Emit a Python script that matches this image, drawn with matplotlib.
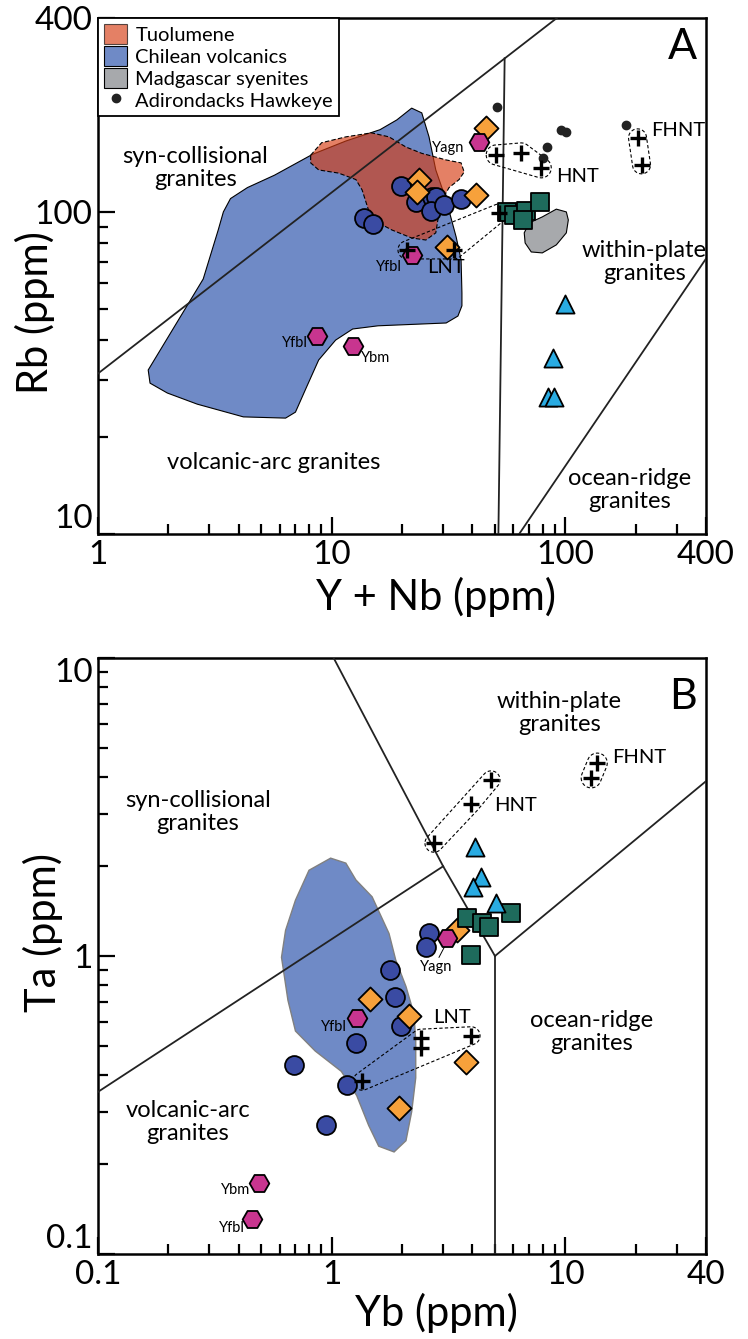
import numpy as np
import matplotlib
matplotlib.use('Agg')
import matplotlib.pyplot as plt
from matplotlib.patches import Polygon, Patch
from matplotlib.lines import Line2D
from matplotlib.ticker import FixedLocator, NullFormatter

plt.rcParams['font.family'] = ['Lato', 'DejaVu Sans']

# ---------------- Panel A : Rb vs Y+Nb ----------------
a_circ_x = [19.8, 22.9, 26.9, 27.9, 26.6, 30.3, 35.8, 13.7, 15.1]
a_circ_y = [120, 107, 111, 111, 101, 105, 110, 96, 92]
a_diam_x = [23.6, 23.2, 41.5, 31.2, 45.8]
a_diam_y = [125.7, 115.4, 113, 77.9, 182.3]
a_hex_x = [42.7, 22.0, 8.62, 12.3]
a_hex_y = [164.9, 73.5, 41.2, 38.4]
a_sq_x = [56.4, 60.4, 68.0, 66.0, 78.1]
a_sq_y = [100, 97.9, 100.7, 94.4, 107.4]
a_tri_x = [100, 88.8, 84.6, 89.7]
a_tri_y = [51.8, 35.2, 26.6, 26.6]
a_hnt_x = [50.6, 64.7, 78.9]
a_hnt_y = [150.3, 152.5, 137.0]
a_fhnt_x = [203.7, 211.9]
a_fhnt_y = [169.8, 140.0]
a_lnt_x = [21.0, 33.4, 52.1]
a_lnt_y = [76.2, 76.2, 99.3]
a_dot_x = [51.1, 96.1, 101, 83.7, 80.5, 182.7]
a_dot_y = [211.8, 179.7, 177.2, 159.2, 147.1, 186.3]

# outlines of reference fields
a_chile_x = [1.64, 2.82, 3.27, 3.44, 3.69, 4.36, 5.69, 8.29, 11.5, 16.1, 19.0, 22.0, 24.3,
             26.1, 27.9, 30.9, 34.1, 35.8, 36.1, 36.1, 34.7, 30.9, 15.8, 12.3, 10.4, 8.80,
             7.81, 7.00, 6.35, 4.19, 2.66, 1.98, 1.67]
a_chile_y = [32.3, 61.9, 87.9, 100, 110, 119, 130, 151, 166, 180, 193, 210, 203, 171, 135,
             109, 83.6, 71.0, 56.0, 51.1, 47.5, 45.2, 44.3, 43.3, 40.0, 34.7, 28.6, 23.9,
             22.9, 23.1, 25.3, 27.4, 29.4]
a_tuol_x = [8.13, 9.06, 11.5, 14.8, 17.6, 20.8, 24.3, 30.9, 35.8, 36.9, 35.1, 31.8, 29.7,
            28.8, 27.9, 25.3, 22.0, 18.1, 15.9, 14.4, 13.5, 12.7, 10.7, 8.80, 8.13]
a_tuol_y = [150, 164, 171, 176, 171, 159, 152, 145, 142, 133, 126, 119, 109, 99.3, 86.1,
            81.8, 83.0, 87.9, 92.4, 101, 117, 126, 132, 135, 142]
a_mad_x = [66.7, 70.0, 79.7, 91.5, 101, 103, 101, 91.5, 79.7, 71.5, 67.3]
a_mad_y = [86.1, 92.4, 96.5, 102, 100, 94.4, 86.1, 79.0, 74.6, 75.1, 80.1]

# Pearce et al. (1984) boundaries
a_bound = [([1, 92], [31.5, 400]),
           ([55, 51.5], [300, 8]),
           ([51.5, 2000], [8, 400])]

# ---------------- Panel B : Ta vs Yb ----------------
b_circ_x = [2.61, 2.53, 1.77, 1.86, 1.98, 1.27, 0.69, 1.16, 0.95]
b_circ_y = [1.19, 1.07, 0.90, 0.73, 0.58, 0.51, 0.43, 0.37, 0.27]
b_diam_x = [3.44, 1.46, 2.14, 3.76, 1.94]
b_diam_y = [1.22, 0.72, 0.63, 0.44, 0.31]
b_hex_x = [3.12, 1.28, 0.49, 0.458]
b_hex_y = [1.15, 0.62, 0.173, 0.131]
b_sq_x = [3.80, 4.40, 4.72, 5.87, 3.95]
b_sq_y = [1.34, 1.29, 1.25, 1.39, 1.01]
b_tri_x = [4.11, 4.36, 4.03, 5.06]
b_tri_y = [2.32, 1.84, 1.71, 1.51]
b_hnt_x = [4.81, 3.95, 2.74]
b_hnt_y = [3.90, 3.24, 2.39]
b_fhnt_x = [13.7, 12.9]
b_fhnt_y = [4.44, 3.96]
b_lnt_x = [1.35, 2.41, 2.41, 3.95]
b_lnt_y = [0.38, 0.53, 0.49, 0.54]

b_chile_x = [0.99, 1.15, 1.27, 1.49, 1.76, 1.88, 2.08, 2.25, 2.29, 2.29, 2.20, 2.08, 1.85,
             1.59, 1.44, 1.28, 1.10, 0.85, 0.70, 0.65, 0.61, 0.635, 0.70, 0.80]
b_chile_y = [2.13, 2.05, 1.80, 1.58, 1.19, 0.97, 0.79, 0.64, 0.52, 0.39, 0.30, 0.24, 0.22,
             0.23, 0.27, 0.34, 0.41, 0.48, 0.56, 0.71, 0.99, 1.22, 1.54, 1.94]

b_bound = [([1.02, 3, 5], [10, 2, 1]),
           ([0.1, 3], [0.35, 2]),
           ([5, 5], [1, 0.05]),
           ([5, 100], [1, 7])]

# colours
c_circ = '#3A4BA3'
c_diam = '#F7A13B'
c_hex = '#C8358F'
c_sq = '#1E6B5C'
c_tri = '#29ABE2'
c_chile = '#6F8AC6'
c_tuol = '#D63C12'
c_mad = '#A7A9AC'


def hull(points):
    # monotone chain convex hull
    pts = sorted(map(tuple, points))
    def cross(o, a, b):
        return (a[0]-o[0])*(b[1]-o[1]) - (a[1]-o[1])*(b[0]-o[0])
    lower, upper = [], []
    for p in pts:
        while len(lower) >= 2 and cross(lower[-2], lower[-1], p) <= 0:
            lower.pop()
        lower.append(p)
    for p in reversed(pts):
        while len(upper) >= 2 and cross(upper[-2], upper[-1], p) <= 0:
            upper.pop()
        upper.append(p)
    return np.array(lower[:-1] + upper[:-1])


def group_outline(ax, xs, ys, pad=9):
    # dashed envelope around a group of samples, built in display space
    pts = ax.transData.transform(np.column_stack([xs, ys]))
    ang = np.linspace(0, 2*np.pi, 32, endpoint=False)
    ring = np.column_stack([np.cos(ang), np.sin(ang)]) * pad
    cloud = (pts[:, None, :] + ring[None, :, :]).reshape(-1, 2)
    data = ax.transData.inverted().transform(hull(cloud))
    ax.add_patch(Polygon(data, closed=True, fill=False, ls=(0, (3, 2)),
                         lw=0.8, ec='k', zorder=4))


def style_axis(ax, xlim, ylim, xmaj, xlab, ymaj, ylab):
    ax.set_xscale('log')
    ax.set_yscale('log')
    ax.set_xlim(xlim)
    ax.set_ylim(ylim)
    ax.xaxis.set_major_locator(FixedLocator(xmaj))
    ax.yaxis.set_major_locator(FixedLocator(ymaj))
    ax.set_xticklabels(xlab)
    ax.set_yticklabels(ylab)
    ax.xaxis.set_minor_formatter(NullFormatter())
    ax.yaxis.set_minor_formatter(NullFormatter())
    ax.tick_params(which='both', direction='in', top=False, right=False,
                   width=1.6, labelsize=24, pad=4)
    ax.tick_params(which='major', length=12)
    ax.tick_params(which='minor', length=7)
    for s in ax.spines.values():
        s.set_linewidth(1.8)


def draw_samples(ax, d):
    kw = dict(edgecolors='k', linewidths=1.3, zorder=6)
    ax.scatter(d['circ'][0], d['circ'][1], s=185, marker='o', c=c_circ, **kw)
    ax.scatter(d['diam'][0], d['diam'][1], s=150, marker='D', c=c_diam, **kw)
    ax.scatter(d['hex'][0], d['hex'][1], s=200, marker='H', c=c_hex, **kw)
    ax.scatter(d['sq'][0], d['sq'][1], s=165, marker='s', c=c_sq, **kw)
    ax.scatter(d['tri'][0], d['tri'][1], s=170, marker='^', c=c_tri, **kw)
    for g in ('hnt', 'fhnt', 'lnt'):
        ax.plot(d[g][0], d[g][1], ls='none', marker='+', ms=11, mew=2.4,
                color='k', zorder=7)


fig = plt.figure(figsize=(7.48, 13.39), dpi=100)
axA = fig.add_axes([98/748, 1-534/1339, 608/748, 516/1339])
axB = fig.add_axes([98/748, 1-1254/1339, 608/748, 596/1339])

# ---------- A ----------
style_axis(axA, (1, 400), (10, 400), [1, 10, 100, 400], ['1', '10', '100', '400'],
           [10, 100, 400], ['10', '100', '400'])
axA.yaxis.get_major_ticks()[0].label1.set_va('bottom')
axA.set_xlabel('Y + Nb (ppm)', fontsize=30)
axA.xaxis.set_label_coords(0.556, -0.083)
axA.set_ylabel('Rb (ppm)', fontsize=30)
axA.yaxis.set_label_coords(-0.07, 0.43)

axA.add_patch(Polygon(np.column_stack([a_chile_x, a_chile_y]), closed=True,
                      fc=c_chile, ec='k', lw=0.8, zorder=1))
axA.add_patch(Polygon(np.column_stack([a_tuol_x, a_tuol_y]), closed=True,
                      fc=c_tuol, alpha=0.65, ec='none', zorder=2))
axA.add_patch(Polygon(np.column_stack([a_tuol_x, a_tuol_y]), closed=True,
                      fill=False, ec='k', lw=0.8, ls=(0, (4, 2)), zorder=2))
axA.add_patch(Polygon(np.column_stack([a_mad_x, a_mad_y]), closed=True,
                      fc=c_mad, ec='k', lw=0.8, zorder=2))
for bx, by in a_bound:
    axA.plot(bx, by, color='#222222', lw=1.3, zorder=3)

axA.scatter(a_dot_x, a_dot_y, s=36, c='#222222', zorder=6)
draw_samples(axA, {'circ': (a_circ_x, a_circ_y), 'diam': (a_diam_x, a_diam_y),
                   'hex': (a_hex_x, a_hex_y), 'sq': (a_sq_x, a_sq_y),
                   'tri': (a_tri_x, a_tri_y), 'hnt': (a_hnt_x, a_hnt_y),
                   'fhnt': (a_fhnt_x, a_fhnt_y), 'lnt': (a_lnt_x, a_lnt_y)})
group_outline(axA, a_hnt_x, a_hnt_y, pad=10)
group_outline(axA, a_fhnt_x, a_fhnt_y, pad=9)
group_outline(axA, a_lnt_x, a_lnt_y, pad=9)

reg = dict(fontsize=17, ha='center', va='center', linespacing=1.1, zorder=5)
axA.text(2.61, 137, 'syn-collisional\ngranites', **reg)
axA.text(218, 70, 'within-plate\ngranites', **reg)
axA.text(5.64, 16.7, 'volcanic-arc granites', **reg)
axA.text(188, 13.7, 'ocean-ridge\ngranites', **reg)
axA.text(0.962, 0.944, 'A', transform=axA.transAxes, fontsize=31, ha='center', va='center')

sm = dict(fontsize=10.5, va='center', zorder=8)
axA.text(36.9, 158, 'Yagn', ha='right', **sm)
axA.text(17.6, 67.5, 'Yfbl', ha='center', **sm)
axA.text(7.88, 39.2, 'Yfbl', ha='right', **sm)
axA.text(13.3, 35.2, 'Ybm', ha='left', **sm)
grp = dict(fontsize=14.5, va='center', zorder=8)
axA.text(30.9, 67.0, 'LNT', ha='center', **grp)
axA.text(91.5, 128.5, 'HNT', ha='left', **grp)
axA.text(234, 178.5, 'FHNT', ha='left', **grp)

handles = [Patch(fc=c_tuol, alpha=0.65, ec='k', lw=0.8, label='Tuolumene'),
           Patch(fc=c_chile, ec='k', lw=0.8, label='Chilean volcanics'),
           Patch(fc=c_mad, ec='k', lw=0.8, label='Madgascar syenites'),
           Line2D([], [], ls='none', marker='o', ms=6, color='#222222',
                  label='Adirondacks Hawkeye')]
leg = axA.legend(handles=handles, loc='upper left', borderaxespad=0, fontsize=14.5,
                 frameon=True, fancybox=False, framealpha=1, edgecolor='k',
                 handlelength=1.15, handleheight=1.15, handletextpad=0.4,
                 borderpad=0.3, labelspacing=0.1)
leg.get_frame().set_linewidth(1.3)
leg.set_zorder(10)

# ---------- B ----------
style_axis(axB, (0.1, 40), (0.1, 10), [0.1, 1, 10, 40], ['0.1', '1', '10', '40'],
           [0.1, 1, 10], ['0.1', '1', '10'])
axB.yaxis.get_major_ticks()[0].label1.set_va('bottom')
axB.yaxis.get_major_ticks()[2].label1.set_va('top')
axB.set_xlabel('Yb (ppm)', fontsize=30)
axB.xaxis.set_label_coords(0.556, -0.066)
axB.set_ylabel('Ta (ppm)', fontsize=30)
axB.yaxis.set_label_coords(-0.058, 0.54)

axB.add_patch(Polygon(np.column_stack([b_chile_x, b_chile_y]), closed=True,
                      fc=c_chile, ec='#808080', lw=1.0, zorder=1))
for bx, by in b_bound:
    axB.plot(bx, by, color='#222222', lw=1.3, zorder=3)

draw_samples(axB, {'circ': (b_circ_x, b_circ_y), 'diam': (b_diam_x, b_diam_y),
                   'hex': (b_hex_x, b_hex_y), 'sq': (b_sq_x, b_sq_y),
                   'tri': (b_tri_x, b_tri_y), 'hnt': (b_hnt_x, b_hnt_y),
                   'fhnt': (b_fhnt_x, b_fhnt_y), 'lnt': (b_lnt_x, b_lnt_y)})
group_outline(axB, b_hnt_x, b_hnt_y, pad=9)
group_outline(axB, b_fhnt_x, b_fhnt_y, pad=10)
group_outline(axB, b_lnt_x, b_lnt_y, pad=9)

axB.text(0.268, 3.04, 'syn-collisional\ngranites', **reg)
axB.text(9.42, 6.54, 'within-plate\ngranites', **reg)
axB.text(0.243, 0.277, 'volcanic-arc\ngranites', **reg)
axB.text(12.9, 0.556, 'ocean-ridge\ngranites', **reg)
axB.text(0.962, 0.935, 'B', transform=axB.transAxes, fontsize=31, ha='center', va='center')

axB.text(2.79, 0.92, 'Yagn', ha='center', **sm)
axB.plot([2.88, 3.09], [0.99, 1.10], color='k', lw=0.7, zorder=5)
axB.text(1.02, 0.578, 'Yfbl', ha='center', **sm)
axB.text(0.449, 0.164, 'Ybm', ha='right', **sm)
axB.text(0.424, 0.122, 'Yfbl', ha='right', **sm)
axB.text(4.96, 3.21, 'HNT', ha='left', **grp)
axB.text(15.8, 4.62, 'FHNT', ha='left', **grp)
axB.text(3.27, 0.62, 'LNT', ha='center', **grp)

fig.savefig('out.png', dpi=100)
